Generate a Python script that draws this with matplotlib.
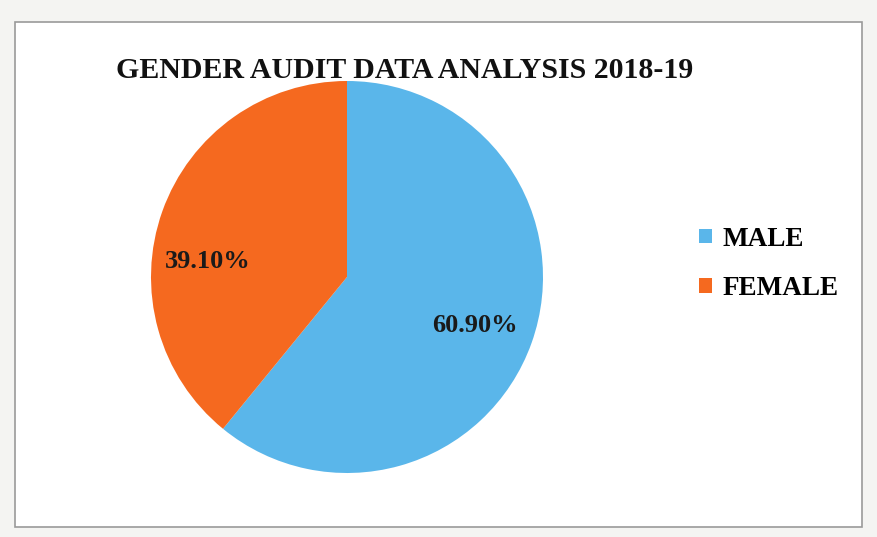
import matplotlib
matplotlib.use("Agg")
import matplotlib.pyplot as plt
from matplotlib.patches import Rectangle

categories = ["MALE", "FEMALE"]
values = [60.90, 39.10]
labels = ["60.90%", "39.10%"]
colors = ["#5AB6EA", "#F5691F"]
title = "GENDER AUDIT DATA ANALYSIS 2018-19"

W, H = 877, 537
fig = plt.figure(figsize=(W/100, H/100), dpi=100)
fig.patch.set_facecolor("#F4F4F2")
serif = ["Liberation Serif", "DejaVu Serif"]

# chart area frame
bg = fig.add_axes([0, 0, 1, 1])
bg.set_xlim(0, W); bg.set_ylim(H, 0); bg.axis("off")
bg.add_patch(Rectangle((15, 22), 847, 505, facecolor="white", edgecolor="#9A9A9A", lw=1.2))

cx, cy, r = 347, 277, 196
ax = fig.add_axes([(cx - r)/W, (H - cy - r)/H, 2*r/W, 2*r/H])
wedges, _ = ax.pie(values, colors=colors, startangle=90, counterclock=False,
                   wedgeprops=dict(linewidth=0))
ax.set_aspect("auto")
ax.set_xlim(-1, 1)
ax.set_ylim(-1, 1)

fig.text(475/W, 1 - 325/H, labels[0], fontsize=19, fontweight="bold", family=serif,
         ha="center", va="center", color="#1A1A1A")
fig.text(208/W, 1 - 262/H, labels[1], fontsize=19, fontweight="bold", family=serif,
         ha="center", va="center", color="#1A1A1A")

fig.text(405/W, 1 - 70/H, title, fontsize=21.5, fontweight="bold", family=serif,
         ha="center", va="center", color="#111111")

leg = fig.legend(wedges, categories, loc="center left", bbox_to_anchor=(675/W, 1 - 264/H),
                 frameon=False, handlelength=0.45, handleheight=0.45, handletextpad=0.4,
                 labelspacing=0.9, prop=dict(family=serif, weight="bold", size=19.5))

fig.savefig("out.png", dpi=100, facecolor=fig.get_facecolor())
